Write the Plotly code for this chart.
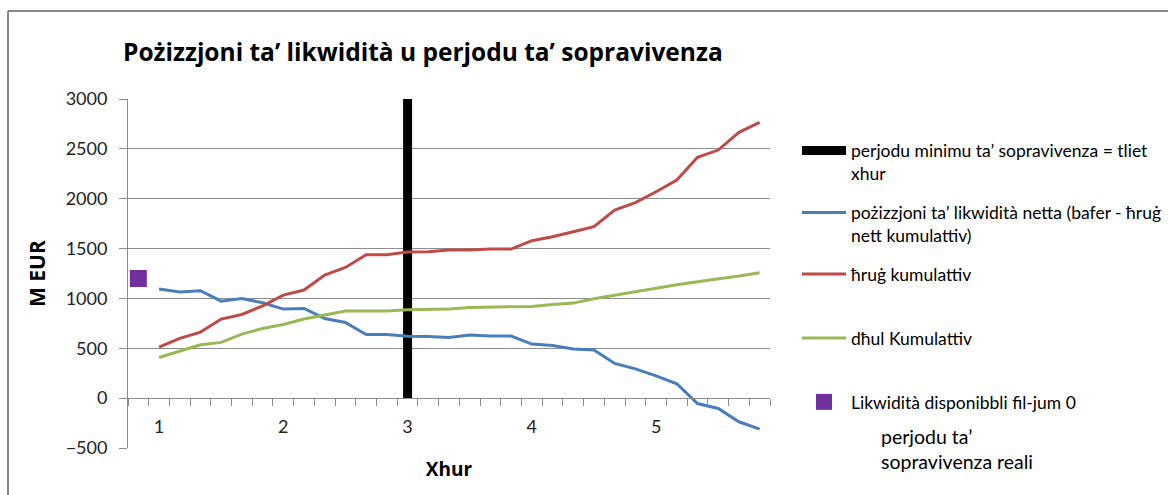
import plotly.graph_objects as go

# ---------------- data ----------------
periods = list(range(1, 31))
net_liquidity = [1094, 1064, 1077, 973, 1000, 957, 893, 900, 799, 759,
                 639, 639, 620, 619, 609, 632, 622, 622, 542, 528,
                 492, 482, 348, 294, 224, 144, -54, -104, -237, -311]
cum_outflow = [512, 599, 662, 793, 839, 926, 1033, 1084, 1234, 1311,
               1438, 1438, 1466, 1468, 1485, 1485, 1495, 1495, 1579, 1619,
               1669, 1719, 1886, 1960, 2070, 2187, 2415, 2488, 2666, 2766]
cum_inflow = [408, 475, 535, 559, 642, 699, 739, 793, 833, 873,
              873, 873, 887, 890, 893, 910, 913, 913, 920, 940,
              953, 997, 1033, 1064, 1104, 1137, 1167, 1194, 1224, 1258]
min_period_x = [13, 13]
min_period_y = [0, 3000]
day0_x = [0]
day0_y = [1200]
month_tick_pos = [1, 7, 13, 19, 25]
month_tick_text = ["1", "2", "3", "4", "5"]

names = [
    "perjodu minimu ta’ sopravivenza = tliet<br>xhur",
    "pożizzjoni ta’ likwidità netta (bafer - ħruġ<br>nett kumulattiv)",
    "ħruġ kumulattiv",
    "dħul Kumulattiv",
    "Likwidità disponibbli fil-jum 0",
]

FONT = "Lato"
BOLD = "Open Sans"
GRAY = "#8c8c8c"
W, H = 1168, 495
L, R, T, B = 128, 398, 99, 47
PW, PH = W - L - R, H - T - B


def px_x(p):
    return (p - L) / PW


def px_y(p):
    return (H - B - p) / PH


fig = go.Figure()
fig.add_trace(go.Scatter(x=min_period_x, y=min_period_y, mode="lines",
                         line=dict(color="black", width=9),
                         name=names[0], legend="legend"))
fig.add_trace(go.Scatter(x=periods, y=net_liquidity, mode="lines",
                         line=dict(color="#4A7EBB", width=3),
                         name=names[1], legend="legend2"))
fig.add_trace(go.Scatter(x=periods, y=cum_outflow, mode="lines",
                         line=dict(color="#BE4B48", width=3),
                         name=names[2], legend="legend3"))
fig.add_trace(go.Scatter(x=periods, y=cum_inflow, mode="lines",
                         line=dict(color="#98B954", width=3),
                         name=names[3], legend="legend4"))
fig.add_trace(go.Scatter(x=day0_x, y=day0_y, mode="markers",
                         marker=dict(color="#7030A0", symbol="square", size=17),
                         name=names[4], legend="legend5"))

legfont = dict(family=FONT, size=17.5, color="#000000")


def leg(ycenter, valign="middle"):
    return dict(x=px_x(797), xanchor="left", y=px_y(ycenter), yanchor="middle",
                font=legfont, bgcolor="rgba(0,0,0,0)", valign=valign,
                itemwidth=44)


fig.update_layout(
    width=W, height=H,
    margin=dict(l=L, r=R, t=T, b=B, autoexpand=False),
    paper_bgcolor="white", plot_bgcolor="white",
    font=dict(family=FONT, color="#000000"),
    title=dict(text="<b>Pożizzjoni ta’ likwidità u perjodu ta’ sopravivenza</b>",
               x=123 / W, xanchor="left", xref="container",
               y=1 - 52 / H, yanchor="middle", yref="container",
               font=dict(family=BOLD, size=24.5, color="#000000")),
    showlegend=True,
    legend=leg(162, "top"),
    legend2=leg(224, "top"),
    legend3=leg(274),
    legend4=leg(338),
    legend5=leg(402),
    xaxis=dict(range=[-0.5, 30.5], anchor="free", position=500 / 3500,
               showline=True, linecolor=GRAY, linewidth=1,
               showgrid=False, zeroline=False,
               tickmode="array", tickvals=month_tick_pos, ticktext=month_tick_text,
               ticks="", ticklabelstandoff=12,
               tickfont=dict(family=FONT, size=18, color="#222222"),
               minor=dict(tick0=-0.5, dtick=1, ticks="outside", ticklen=7,
                          tickcolor=GRAY, tickwidth=1, showgrid=False),
               title=dict(text="<b>Xhur</b>", standoff=26,
                          font=dict(family=BOLD, size=19, color="#000000")),
               automargin=False),
    yaxis=dict(range=[-500, 3000], dtick=500, tick0=0,
               showline=True, linecolor=GRAY, linewidth=1,
               showgrid=True, gridcolor=GRAY, gridwidth=1, zeroline=False,
               ticks="outside", ticklen=8, tickcolor=GRAY,
               ticklabelstandoff=8,
               tickfont=dict(family=FONT, size=18, color="#222222"),
               title=dict(text="<b>M EUR</b>", standoff=14,
                          font=dict(family=BOLD, size=21, color="#000000")),
               automargin=False),
    annotations=[dict(text="perjodu ta’<br>sopravivenza reali",
                      xref="paper", yref="paper", x=px_x(879), y=px_y(449),
                      xanchor="left", yanchor="middle", align="left",
                      showarrow=False,
                      font=dict(family=FONT, size=19.5, color="#000000"))],
    shapes=[dict(type="line", xref="paper", yref="paper",
                 x0=px_x(8), x1=px_x(1200), y0=px_y(11), y1=px_y(11),
                 line=dict(color="#878787", width=2)),
            dict(type="line", xref="paper", yref="paper",
                 x0=px_x(8), x1=px_x(8), y0=px_y(11), y1=px_y(520),
                 line=dict(color="#878787", width=2))],
)

fig.write_html("out.html", config={"displayModeBar": False},
               post_script="document.body.style.margin='0';")
